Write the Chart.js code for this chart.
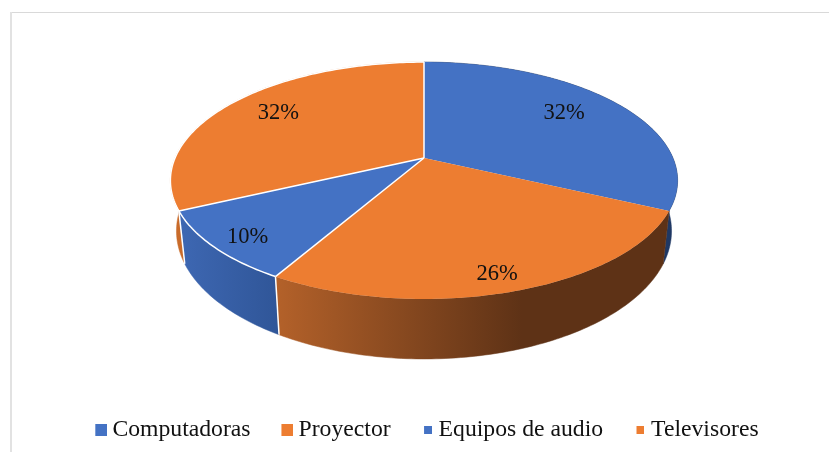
<!DOCTYPE html>
<html><head><meta charset="utf-8">
<style>html,body{margin:0;padding:0;background:#fff}#w{width:829px;height:452px;position:relative}</style>
<script src="https://cdn.jsdelivr.net/npm/chart.js@4"></script></head>
<body><div id="w"><canvas id="c" width="829" height="452"></canvas></div>
<script>
const categories = ['Computadoras','Proyector','Equipos de audio','Televisores'];
const shares = [32, 26.3, 9.7, 32];
const sliceColors = ['#4472C4','#ED7D31','#4472C4','#ED7D31'];
const legendMarkerSizes = [12,12,8,8];
const legendMarkerInset = [2,2,3,3];

// Perspective of the tilted disc
const CX=424, CY=158, A=249, B=114.2, K=0.19;
const SX=0.976, SY=1.08, BASE_Y=206.7;
// label placement: radial fraction, then small pixel nudges
const labelPlace=[[.71,1,-4],[.88,-5,2],[.87,3,3],[.74,-1,-3]];

function topPt(a,r=1){ // a: canvas angle, -PI/2 = 12 o'clock
  const u=Math.cos(a)*r, v=Math.sin(a)*r, w=1-K*v;
  return [CX+A*u/w, CY+B*v/w];
}
function basePt(a){const p=topPt(a);return [CX+(p[0]-CX)*SX, BASE_Y+(p[1]-CY)*SY];}
function samples(s,e){const n=Math.max(8,Math.ceil((e-s)*60)),o=[];for(let i=0;i<=n;i++)o.push(s+(e-s)*i/n);return o;}

function wallFill(ctx,i){
  const g=ctx.createLinearGradient(170,0,680,0);
  if(i===0){g.addColorStop(0,'#1F3864');g.addColorStop(1,'#1F3864');}
  if(i===1){g.addColorStop(0,'#5E3216');g.addColorStop(.2,'#B5622A');g.addColorStop(.69,'#5E3216');g.addColorStop(1,'#5E3216');}
  if(i===2){g.addColorStop(0,'#3F69B5');g.addColorStop(.22,'#2F5597');g.addColorStop(1,'#2F5597');}
  if(i===3){g.addColorStop(0,'#C96B2A');g.addColorStop(1,'#C96B2A');}
  return g;
}

const pie3d={
  id:'pie3d',
  afterLayout(chart){ chart.legend.top=382.5; },
  beforeDraw(chart){const c=chart.ctx;c.save();c.fillStyle='#fff';c.fillRect(0,0,829,452);
    c.fillStyle='#D9D9D9';c.fillRect(10,12,819,1);c.fillStyle='#E2E2E2';c.fillRect(10,12,2,440);c.restore();},
  beforeDatasetDraw(){return false;},
  afterDatasetsDraw(chart){
    const ctx=chart.ctx, arcs=chart.getDatasetMeta(0).data;
    ctx.save();
    // outer walls
    [3,0,2,1].forEach(i=>{
      const as=samples(arcs[i].startAngle,arcs[i].endAngle);
      ctx.beginPath();
      as.forEach((a,j)=>{const p=topPt(a);j?ctx.lineTo(p[0],p[1]):ctx.moveTo(p[0],p[1]);});
      as.slice().reverse().forEach(a=>{const p=basePt(a);ctx.lineTo(p[0],p[1]);});
      ctx.closePath();
      ctx.fillStyle=wallFill(ctx,i);ctx.strokeStyle=wallFill(ctx,i);ctx.lineWidth=.5;
      ctx.fill();ctx.stroke();
    });
    // white seams on the walls
    ctx.strokeStyle='#fff';ctx.lineWidth=1.5;
    [arcs[2].startAngle,arcs[2].endAngle].forEach(a=>{
      const p=topPt(a),q=basePt(a);ctx.beginPath();ctx.moveTo(p[0],p[1]);ctx.lineTo(q[0],q[1]);ctx.stroke();});
    // top faces
    arcs.forEach((arc,i)=>{
      ctx.beginPath();ctx.moveTo(CX,CY);
      samples(arc.startAngle,arc.endAngle).forEach(a=>{const p=topPt(a);ctx.lineTo(p[0],p[1]);});
      ctx.closePath();ctx.fillStyle=sliceColors[i];ctx.fill();
    });
    // white rims and spokes
    ctx.strokeStyle='#fff';ctx.lineWidth=1.5;
    [2,3].forEach(i=>{
      ctx.beginPath();
      samples(arcs[i].startAngle,arcs[i].endAngle).forEach((a,j)=>{const p=topPt(a);j?ctx.lineTo(p[0],p[1]):ctx.moveTo(p[0],p[1]);});
      ctx.stroke();
    });
    [0,2,3].forEach(i=>{const p=topPt(arcs[i].startAngle);ctx.beginPath();ctx.moveTo(CX,CY);ctx.lineTo(p[0],p[1]);ctx.stroke();});
    // labels
    ctx.fillStyle='#111';ctx.font='22.5px "Liberation Serif"';ctx.textAlign='center';ctx.textBaseline='middle';
    arcs.forEach((arc,i)=>{
      const lp=labelPlace[i],p=topPt((arc.startAngle+arc.endAngle)/2,lp[0]);
      ctx.fillText(Math.round(shares[i])+'%',p[0]+lp[1],p[1]+lp[2]);
    });
    ctx.restore();
  }
};

function marker(color,size,inset){const m=document.createElement('canvas');m.width=size+inset;m.height=size;
  const x=m.getContext('2d');x.fillStyle=color;x.fillRect(inset,0,size,size);return m;}

new Chart(document.getElementById('c'),{
  type:'pie',
  data:{labels:categories,datasets:[{data:shares,backgroundColor:sliceColors}]},
  options:{
    responsive:false,animation:false,
    layout:{padding:{left:29.65}},
    plugins:{
      tooltip:{enabled:false},
      legend:{position:'bottom',labels:{
        font:{family:'Liberation Serif',size:23.7},color:'#111',usePointStyle:true,boxWidth:.5,padding:35.65,
        generateLabels(ch){return categories.map((t,i)=>({text:t,index:i,fontColor:'#111',hidden:false,lineWidth:0,
          pointStyle:marker(sliceColors[i],legendMarkerSizes[i],legendMarkerInset[i])}));}
      }}
    }
  },
  plugins:[pie3d]
});
</script></body></html>
